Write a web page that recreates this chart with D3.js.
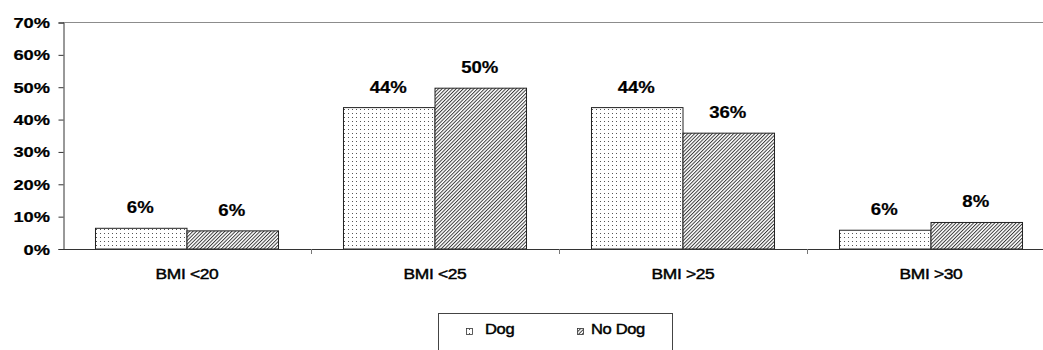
<!DOCTYPE html>
<html>
<head>
<meta charset="utf-8">
<script src="https://cdn.jsdelivr.net/npm/d3@7"></script>
<style>
  html, body { margin: 0; padding: 0; background: #fff; }
  svg { display: block; font-family: Arial, "Liberation Sans", sans-serif; }
</style>
</head>
<body>
<svg id="chart" width="1043" height="350"></svg>
<script>
// Share of respondents in each BMI band, dog owners vs non-owners
const categories = ["BMI <20", "BMI <25", "BMI >25", "BMI >30"];
const seriesNames = ["Dog", "No Dog"];
const dogValues = [0.064, 0.437, 0.437, 0.058];
const noDogValues = [0.056, 0.497, 0.358, 0.082];
const yTicks = [0, 0.1, 0.2, 0.3, 0.4, 0.5, 0.6, 0.7];

const rows = categories.map((c, i) => ({ cat: c, values: [dogValues[i], noDogValues[i]] }));

const svg = d3.select("#chart");
const stretch = 1.16;   // wide letterforms

// fill patterns: fine dots for Dog, diagonal hatching for No Dog
const defs = svg.append("defs");
const dots = defs.append("pattern").attr("id", "dots")
  .attr("patternUnits", "userSpaceOnUse").attr("width", 4).attr("height", 4);
dots.append("rect").attr("width", 4).attr("height", 4).attr("fill", "#fff");
dots.append("rect").attr("x", 1).attr("y", 1).attr("width", 1).attr("height", 1).attr("fill", "#555");

const hatch = defs.append("pattern").attr("id", "hatch")
  .attr("patternUnits", "userSpaceOnUse").attr("width", 2.5).attr("height", 2.5)
  .attr("patternTransform", "rotate(45)");
hatch.append("rect").attr("width", 2.5).attr("height", 2.5).attr("fill", "#fff");
hatch.append("line").attr("x1", 0.5).attr("y1", -1).attr("x2", 0.5).attr("y2", 4)
  .attr("stroke", "#2a2a2a").attr("stroke-width", 0.9);

const fills = ["url(#dots)", "url(#hatch)"];

const plotLeft = 63, plotTop = 22.5, plotBottom = 249;
const x0 = d3.scaleBand().domain(categories).range([plotLeft, 1055]).paddingInner(0).paddingOuter(0);
const x1 = d3.scaleBand().domain(seriesNames).range([0, x0.bandwidth()]).paddingInner(0).paddingOuter(0.355);
const y = d3.scaleLinear().domain([0, 0.7]).range([plotBottom, plotTop]);

// plot area top border
svg.append("line").attr("x1", plotLeft).attr("x2", 1043).attr("y1", plotTop).attr("y2", plotTop)
  .attr("stroke", "#8c8c8c").attr("stroke-width", 1.2);

// y axis
const yAxis = d3.axisLeft(y).tickValues(yTicks).tickSize(5).tickFormat("");
const yg = svg.append("g").attr("transform", `translate(${plotLeft + 0.5},0)`).call(yAxis);
yg.select(".domain").attr("stroke", "#333");
yg.selectAll(".tick line").attr("stroke", "#333");

svg.append("g").selectAll("text").data(yTicks).join("text")
  .attr("transform", d => `translate(50,${y(d) + 5.5}) scale(1.22,1)`)
  .attr("text-anchor", "end")
  .attr("font-size", 15).attr("font-weight", "bold").attr("fill", "#000")
  .attr("stroke", "#000").attr("stroke-width", 0.2)
  .text(d3.format(".0%"));

// bars
const groups = svg.append("g").selectAll("g").data(rows).join("g")
  .attr("transform", d => `translate(${x0(d.cat)},0)`);

groups.selectAll("rect").data(d => d.values.map((v, i) => ({ v, s: seriesNames[i], i })))
  .join("rect")
  .attr("x", d => x1(d.s))
  .attr("y", d => y(d.v))
  .attr("width", x1.bandwidth())
  .attr("height", d => plotBottom - y(d.v))
  .attr("fill", d => fills[d.i])
  .attr("stroke", "#222").attr("stroke-width", 1);

groups.selectAll("text.val").data(d => d.values.map((v, i) => ({ v, s: seriesNames[i] })))
  .join("text").attr("class", "val")
  .attr("transform", d => `translate(${x1(d.s) + x1.bandwidth() / 2 - 1},${y(d.v) - 15}) scale(${stretch},1)`)
  .attr("text-anchor", "middle")
  .attr("font-size", 16).attr("font-weight", "bold").attr("fill", "#000")
  .attr("stroke", "#000").attr("stroke-width", 0.2)
  .text(d => d3.format(".0%")(d.v));

// x axis with ticks at category boundaries
const xg = svg.append("g");
xg.append("line").attr("x1", plotLeft).attr("x2", 1043).attr("y1", plotBottom + 0.5).attr("y2", plotBottom + 0.5)
  .attr("stroke", "#333");
xg.selectAll("line.tk").data(categories.slice(1)).join("line").attr("class", "tk")
  .attr("x1", d => x0(d) + 0.5).attr("x2", d => x0(d) + 0.5)
  .attr("y1", plotBottom).attr("y2", plotBottom + 5).attr("stroke", "#777");
xg.selectAll("text").data(categories).join("text")
  .attr("transform", d => `translate(${x0(d) + x0.bandwidth() / 2},279) scale(${stretch},1)`)
  .attr("text-anchor", "middle")
  .attr("font-size", 15).attr("fill", "#000")
  .attr("letter-spacing", -0.3)
  .attr("stroke", "#000").attr("stroke-width", 0.45)
  .text(d => d);

// legend
const lg = svg.append("g");
lg.append("rect").attr("x", 438.5).attr("y", 313.5).attr("width", 234).attr("height", 60)
  .attr("fill", "#fff").attr("stroke", "#444");
const legendItems = [
  { name: seriesNames[0], sx: 466, tx: 485 },
  { name: seriesNames[1], sx: 577, tx: 591 }
];
legendItems.forEach((d, i) => {
  lg.append("rect").attr("x", d.sx + 0.5).attr("y", 328.5).attr("width", 6).attr("height", 6)
    .attr("fill", fills[i]).attr("stroke", "#333").attr("stroke-width", 0.8);
  lg.append("text").attr("transform", `translate(${d.tx},334) scale(1.1,1)`)
    .attr("font-size", 15).attr("fill", "#000")
    .attr("letter-spacing", -0.3)
    .attr("stroke", "#000").attr("stroke-width", 0.45)
    .text(d.name);
});
</script>
</body>
</html>
